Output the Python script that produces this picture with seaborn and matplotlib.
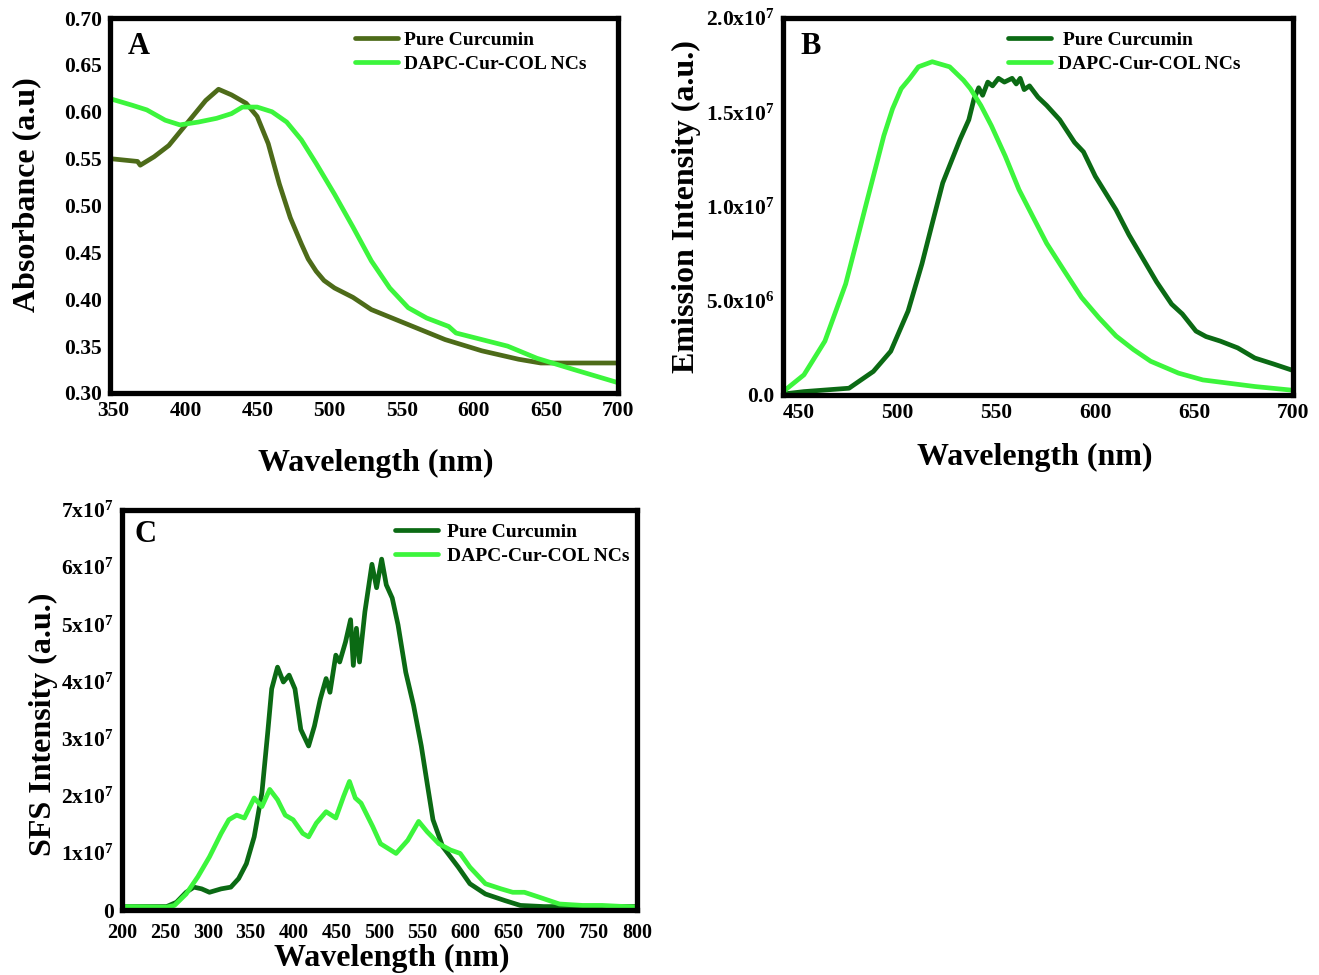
import numpy as np
import pandas as pd
import matplotlib
matplotlib.use("Agg")
import matplotlib.pyplot as plt
import seaborn as sns

# ---- Panel A: UV-vis absorbance ----
a_pure_wl = [347.4, 366.6, 368.5, 378.1, 388.3, 401.1, 413.9, 422.8, 431.8, 442.0, 449.6,
             457.3, 465.0, 472.6, 480.3, 485.0, 490.5, 496.0, 503.3, 516.1, 528.8, 554.4,
             580.0, 605.5, 631.0, 646.4, 700.0]
a_pure_abs = [0.550, 0.547, 0.543, 0.552, 0.564, 0.588, 0.612, 0.624, 0.618, 0.609, 0.595,
              0.566, 0.523, 0.487, 0.459, 0.443, 0.430, 0.420, 0.412, 0.402, 0.389, 0.373,
              0.357, 0.345, 0.336, 0.332, 0.332]
a_dapc_wl = [347.4, 362.8, 373.0, 385.8, 396.0, 408.8, 421.5, 431.8, 439.4, 449.6, 459.9,
             470.1, 480.3, 490.5, 503.3, 516.1, 528.8, 541.6, 554.4, 567.2, 582.5, 587.6,
             605.5, 623.4, 643.8, 669.4, 700.0]
a_dapc_abs = [0.614, 0.607, 0.602, 0.591, 0.586, 0.589, 0.593, 0.598, 0.605, 0.605, 0.600,
              0.589, 0.570, 0.545, 0.512, 0.477, 0.441, 0.412, 0.391, 0.380, 0.371, 0.364,
              0.357, 0.350, 0.337, 0.325, 0.311]

# ---- Panel B: emission ----
b_pure_wl = [442.0, 452.6, 475.4, 487.7, 496.5, 505.3, 512.3, 517.5, 522.8, 531.6, 536.0,
             538.6, 541.0, 543.0, 545.6, 548.0, 551.0, 554.0, 557.9, 560.0, 562.0, 564.0,
             566.7, 571.0, 575.4, 582.0, 589.5, 594.0, 600.0, 610.5, 617.0, 624.6, 631.0,
             638.6, 644.0, 650.9, 656.0, 663.2, 672.0, 680.7, 690.0, 700.0]
b_pure_int = [0.05e6, 0.18e6, 0.36e6, 1.25e6, 2.32e6, 4.46e6, 6.96e6, 9.1e6, 11.25e6, 13.57e6, 14.6e6,
              15.7e6, 16.3e6, 15.9e6, 16.6e6, 16.4e6, 16.8e6, 16.6e6, 16.8e6, 16.5e6, 16.8e6, 16.2e6,
              16.4e6, 15.8e6, 15.36e6, 14.6e6, 13.4e6, 12.9e6, 11.6e6, 9.82e6, 8.5e6, 7.14e6, 6.0e6,
              4.82e6, 4.3e6, 3.39e6, 3.1e6, 2.86e6, 2.5e6, 1.96e6, 1.65e6, 1.3e6]
b_dapc_wl = [442.1, 452.6, 463.2, 473.7, 479.0, 484.2, 488.6, 493.0, 497.4, 501.8, 506.1,
             510.5, 517.5, 526.3, 533.3, 536.8, 542.1, 547.4, 554.4, 561.4, 568.4, 575.4,
             584.2, 593.0, 601.8, 610.5, 619.3, 628.0, 642.1, 654.4, 680.7, 700.0]
b_dapc_int = [0.18e6, 1.07e6, 2.86e6, 5.89e6, 8.04e6, 10.18e6, 11.96e6, 13.75e6, 15.18e6, 16.25e6, 16.79e6,
              17.41e6, 17.68e6, 17.41e6, 16.7e6, 16.25e6, 15.36e6, 14.29e6, 12.68e6, 10.89e6, 9.46e6, 8.04e6,
              6.6e6, 5.18e6, 4.1e6, 3.13e6, 2.41e6, 1.79e6, 1.16e6, 0.8e6, 0.45e6, 0.25e6]

# ---- Panel C: synchronous fluorescence (x 1e7) ----
c_pure_wl = [200, 252, 263.4, 274.7, 283.8, 292.8, 301.9, 315.5, 326.8, 335.9, 344.9, 354.0,
             363.0, 369.8, 374.4, 381.2, 388.0, 394.7, 401.5, 408.3, 417.4, 424.2, 431.0, 437.8,
             442.3, 449.1, 453.6, 460.4, 466.3, 469.5, 473.1, 476.7, 483.0, 491.2, 496.6, 502.5,
             507.9, 514.8, 521.6, 530.6, 539.7, 548.7, 555.5, 562.3, 573.6, 582.7, 591.8, 605.3,
             623.4, 646.1, 664.2, 691.4, 800]
c_pure_int = [0.06, 0.06, 0.135, 0.31, 0.40, 0.37, 0.31, 0.37, 0.40, 0.55, 0.81, 1.28,
              2.05, 3.11, 3.87, 4.25, 3.99, 4.11, 3.87, 3.16, 2.87, 3.22, 3.69, 4.05,
              3.81, 4.46, 4.34, 4.69, 5.08, 4.28, 4.93, 4.34, 5.22, 6.05, 5.64, 6.14,
              5.69, 5.46, 4.99, 4.16, 3.58, 2.87, 2.22, 1.58, 1.11, 0.93, 0.75, 0.46,
              0.28, 0.165, 0.08, 0.06, 0.06]
c_dapc_wl = [200, 252, 261.1, 274.7, 288.3, 301.9, 315.5, 324.5, 333.6, 342.6, 354.0, 363.0,
             372.1, 381.2, 390.2, 399.3, 410.6, 417.4, 426.4, 437.8, 449.1, 458.2, 465.0, 471.8,
             478.5, 492.1, 501.2, 519.3, 532.9, 545.6, 555.5, 569.1, 582.7, 594.0, 605.3, 623.4,
             641.6, 655.2, 668.8, 686.9, 709.6, 736.7, 759.3, 800]
c_dapc_int = [0.06, 0.05, 0.08, 0.28, 0.58, 0.93, 1.34, 1.58, 1.66, 1.61, 1.96, 1.81,
              2.11, 1.93, 1.66, 1.58, 1.34, 1.28, 1.52, 1.72, 1.61, 1.99, 2.25, 1.96,
              1.87, 1.46, 1.16, 0.99, 1.22, 1.55, 1.37, 1.16, 1.05, 0.99, 0.75, 0.46,
              0.37, 0.31, 0.31, 0.22, 0.105, 0.08, 0.08, 0.05]

labels = ["Pure Curcumin", "DAPC-Cur-COL NCs"]
olive = "#4d6b19"
dark_green = "#0b6a14"
bright_green = "#3cf53c"

sns.set_theme(style="white")
plt.rcParams["font.family"] = ["Liberation Serif", "DejaVu Serif"]
plt.rcParams["font.weight"] = "bold"
plt.rcParams["axes.labelweight"] = "bold"
for key in ["text.color", "axes.labelcolor", "xtick.color", "ytick.color"]:
    plt.rcParams[key] = "black"
plt.rcParams["mathtext.fontset"] = "custom"
plt.rcParams["mathtext.rm"] = "Liberation Serif:bold"
plt.rcParams["mathtext.bf"] = "Liberation Serif:bold"
plt.rcParams["mathtext.it"] = "Liberation Serif:bold"

W, H = 1319, 975
fig = plt.figure(figsize=(W / 100, H / 100), dpi=100)


def px_axes(x0, y0, x1, y1):
    return fig.add_axes([x0 / W, 1 - y1 / H, (x1 - x0) / W, (y1 - y0) / H])


def style(ax):
    for s in ax.spines.values():
        s.set_linewidth(3.8)
        s.set_color("black")
    ax.tick_params(axis="both", which="both", direction="in", width=3, color="black",
                   labelsize=15.5, pad=6)
    ax.tick_params(which="major", length=5)
    ax.tick_params(which="minor", length=5)
    for t in ax.get_xticklabels() + ax.get_yticklabels():
        t.set_fontweight("bold")


def draw(ax, x1, y1, x2, y2, c1, c2, names=labels):
    sns.lineplot(x=x1, y=y1, ax=ax, color=c1, lw=3.4, label=names[0], estimator=None, sort=False)
    sns.lineplot(x=x2, y=y2, ax=ax, color=c2, lw=3.4, label=names[1], estimator=None, sort=False)


def legend(ax, anchor, pad):
    ax.legend(loc="upper left", bbox_to_anchor=anchor, frameon=False,
              handlelength=2.2, handletextpad=pad, labelspacing=0.3, borderaxespad=0.2,
              prop={"weight": "bold", "size": 14})


# Panel A
axA = px_axes(110, 18, 618, 393)
draw(axA, a_pure_wl, a_pure_abs, a_dapc_wl, a_dapc_abs, olive, bright_green)
axA.set_xlim(347.5, 700)
axA.set_ylim(0.30, 0.70)
axA.set_xticks(np.arange(350, 701, 50))
axA.set_yticks(np.arange(0.30, 0.701, 0.05))
axA.set_yticklabels([f"{v:.2f}" for v in np.arange(0.30, 0.701, 0.05)])
axA.set_xticks([416.4, 486.7, 557.0, 627.2], minor=True)
axA.set_yticks([0.352, 0.439, 0.525], minor=True)
style(axA)
axA.tick_params(which="major", length=0)
axA.set_xlabel("Wavelength (nm)", fontsize=23)
axA.set_ylabel("Absorbance (a.u)", fontsize=23)
axA.xaxis.set_label_coords(0.524, -0.148)
axA.yaxis.set_label_coords(-0.135, 0.53)
axA.text(0.035, 0.925, "A", transform=axA.transAxes, fontsize=22, fontweight="bold", va="center")
legend(axA, (0.46, 0.995), 0.3)

# Panel B
axB = px_axes(783, 18, 1293, 395)
draw(axB, b_pure_wl, b_pure_int, b_dapc_wl, b_dapc_int, dark_green, bright_green,
     names=[" " + labels[0], labels[1]])
axB.set_xlim(442, 700)
axB.set_ylim(0, 2.0e7)
axB.set_xticks(np.arange(450, 701, 50))
axB.set_yticks([0, 5e6, 1e7, 1.5e7, 2e7])
axB.set_yticklabels(["0.0", r"$\mathbf{5.0x10^6}$", r"$\mathbf{1.0x10^7}$",
                     r"$\mathbf{1.5x10^7}$", r"$\mathbf{2.0x10^7}$"])
style(axB)
axB.set_xlabel("Wavelength (nm)", fontsize=23)
axB.set_ylabel("Emission Intensity (a.u.)", fontsize=23)
axB.xaxis.set_label_coords(0.494, -0.128)
axB.yaxis.set_label_coords(-0.16, 0.5)
axB.text(0.035, 0.925, "B", transform=axB.transAxes, fontsize=22, fontweight="bold", va="center")
legend(axB, (0.418, 0.995), 0.4)

# Panel C
axC = px_axes(122, 510, 637, 910)
draw(axC, c_pure_wl, np.array(c_pure_int) * 1e7, c_dapc_wl, np.array(c_dapc_int) * 1e7,
     dark_green, bright_green)
axC.set_xlim(200, 800)
axC.set_ylim(0, 7e7)
axC.set_xticks(np.arange(200, 801, 50))
axC.set_yticks(np.arange(0, 7.01e7, 1e7))
axC.set_yticklabels(["0"] + [rf"$\mathbf{{{i}x10^7}}$" for i in range(1, 8)])
style(axC)
axC.tick_params(axis="x", labelsize=14.5, pad=9)
axC.set_xlabel("Wavelength (nm)", fontsize=23)
axC.set_ylabel("SFS Intensity (a.u.)", fontsize=23)
axC.xaxis.set_label_coords(0.524, -0.085)
axC.yaxis.set_label_coords(-0.125, 0.465)
axC.text(0.025, 0.94, "C", transform=axC.transAxes, fontsize=22, fontweight="bold", va="center")
legend(axC, (0.508, 0.995), 0.45)

fig.savefig("out.png", dpi=100)
